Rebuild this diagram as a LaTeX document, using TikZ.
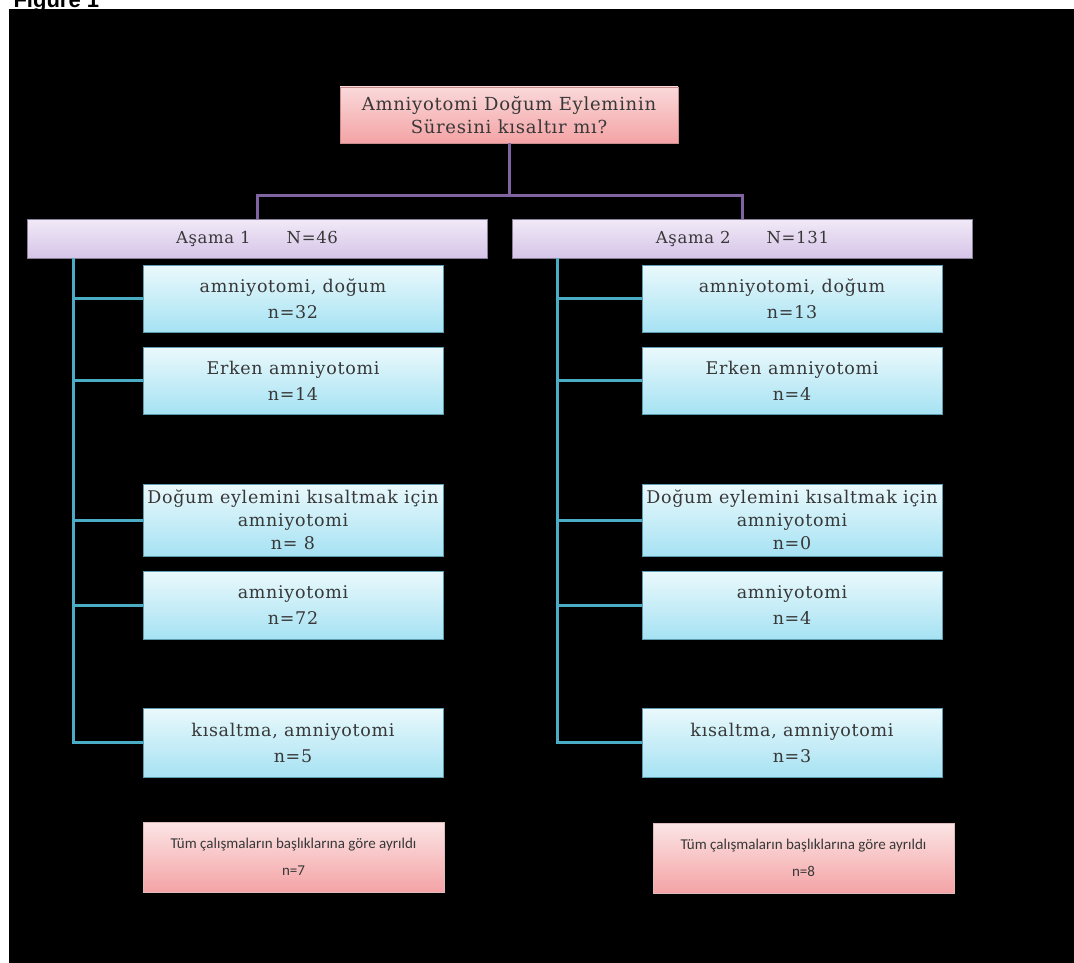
\documentclass[tikz,border=0pt]{standalone}
\usepackage{fontspec}
\setmainfont{DejaVu Serif}
\newfontfamily\boxfont[LetterSpace=4]{DejaVu Serif}
\newfontfamily\smallfont{Carlito}
\newfontfamily\figfont{Liberation Sans}
\definecolor{pinktop}{HTML}{FAD9DA}
\definecolor{pinkbot}{HTML}{F4A3A5}
\definecolor{pinkedge}{HTML}{C98C8E}
\definecolor{lavtop}{HTML}{F1EAF7}
\definecolor{lavbot}{HTML}{D6C4E8}
\definecolor{lavedge}{HTML}{8A7F99}
\definecolor{cyantop}{HTML}{EAF9FC}
\definecolor{cyanbot}{HTML}{A6E2F3}
\definecolor{cyanedge}{HTML}{5E9DB0}
\definecolor{purpline}{HTML}{8064A2}
\definecolor{aqualine}{HTML}{4BACC6}
\definecolor{txtgray}{HTML}{383838}
\tikzset{
  basebox/.style={inner sep=0pt, align=center, text=txtgray, line width=0.8pt},
  titlebox/.style={basebox, draw=pinkedge, top color=pinktop, bottom color=pinkbot,
    minimum width=338pt, minimum height=56pt, font=\boxfont\fontsize{18}{23}\selectfont},
  phasebox/.style={basebox, draw=lavedge, top color=lavtop, bottom color=lavbot,
    minimum width=460pt, minimum height=39pt, font=\boxfont\fontsize{16.5}{20}\selectfont},
  tealbox/.style={basebox, draw=cyanedge, top color=cyantop, bottom color=cyanbot,
    minimum width=300pt, font=\boxfont\fontsize{17.5}{26}\selectfont},
  notebox/.style={basebox, draw=pinkedge!60, top color=pinktop!70!white, bottom color=pinkbot,
    minimum width=301pt, minimum height=70pt, font=\smallfont\fontsize{15}{27}\selectfont},
  purpconn/.style={draw=purpline, line width=3pt},
  aquaconn/.style={draw=aqualine, line width=3pt},
}
\begin{document}
\begin{tikzpicture}[x=1pt, y=-1pt]
\useasboundingbox (0,0) rectangle (1074,963);
\fill[black] (9,9) rectangle (1074,963);
\node[anchor=base west, font=\figfont\bfseries\fontsize{22}{22}\selectfont, text=black] (fig) at (10,8) {Figure 1};

% title
\node[titlebox] (title) at (509,115) {Amniyotomi Doğum Eyleminin\\Süresini kısaltır mı?};
% phases
\node[phasebox] (p1) at (257,238.5) {Aşama 1\hspace{36pt}N=46};
\node[phasebox] (p2) at (742.5,238.5) {Aşama 2\hspace{36pt}N=131};
\coordinate (j) at (509,195);
\draw[purpconn] (title.south) -- (j);
\draw[purpconn] (j) -| (p1.north);
\draw[purpconn] (j) -| (p2.north);

% left column
\node[tealbox, minimum height=67pt] (l1) at (293,298.5) {amniyotomi, doğum\\n=32};
\node[tealbox, minimum height=67pt] (l2) at (293,380.5) {Erken amniyotomi\\n=14};
\node[tealbox, minimum height=72pt, font=\boxfont\fontsize{17.5}{23}\selectfont] (l3) at (293,520) {Doğum eylemini kısaltmak için\\amniyotomi\\n= 8};
\node[tealbox, minimum height=68pt] (l4) at (293,605) {amniyotomi\\n=72};
\node[tealbox, minimum height=69pt] (l5) at (293,742.5) {kısaltma, amniyotomi\\n=5};
\node[notebox] (ln) at (293.5,857) {Tüm çalışmaların başlıklarına göre ayrıldı\\n=7};

% right column
\node[tealbox, minimum height=67pt] (r1) at (792,298.5) {amniyotomi, doğum\\n=13};
\node[tealbox, minimum height=67pt] (r2) at (792,380.5) {Erken amniyotomi\\n=4};
\node[tealbox, minimum height=72pt, font=\boxfont\fontsize{17.5}{23}\selectfont] (r3) at (792,520) {Doğum eylemini kısaltmak için\\amniyotomi\\n=0};
\node[tealbox, minimum height=68pt] (r4) at (792,605) {amniyotomi\\n=4};
\node[tealbox, minimum height=69pt] (r5) at (792,742.5) {kısaltma, amniyotomi\\n=3};
\node[notebox] (rn) at (803.5,858) {Tüm çalışmaların başlıklarına göre ayrıldı\\n=8};

% spines
\coordinate (s1) at (73,0);
\coordinate (s2) at (557,0);
\draw[aquaconn] (s1 |- p1.south) |- (l5.west);
\foreach \b in {l1,l2,l3,l4} \draw[aquaconn] (s1 |- \b.west) -- (\b.west);
\draw[aquaconn] (s2 |- p2.south) |- (r5.west);
\foreach \b in {r1,r2,r3,r4} \draw[aquaconn] (s2 |- \b.west) -- (\b.west);
\end{tikzpicture}
\end{document}
